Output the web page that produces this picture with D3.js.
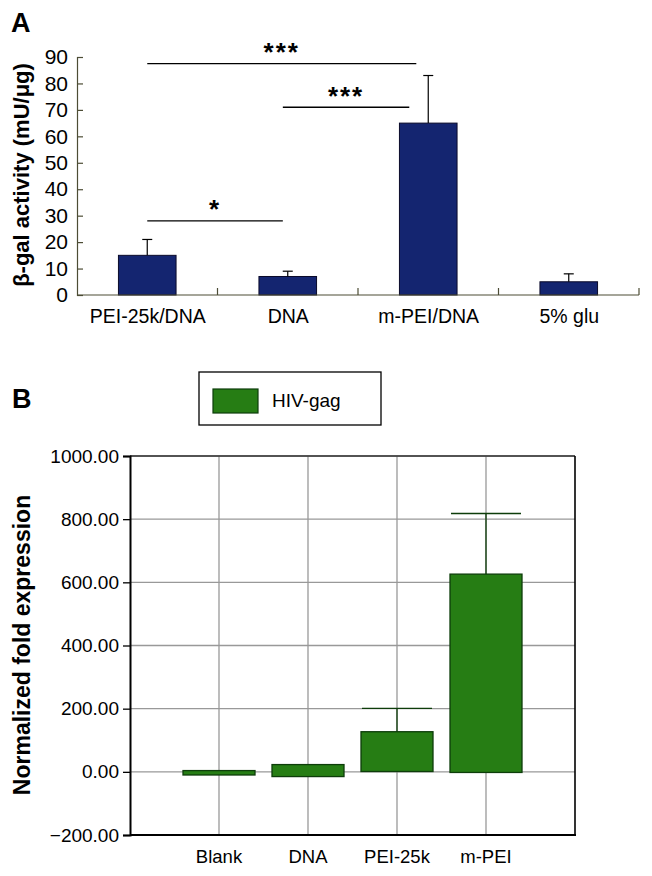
<!DOCTYPE html>
<html><head><meta charset="utf-8">
<script src="https://cdn.jsdelivr.net/npm/d3@7"></script>
<style>body{margin:0;background:#fff}svg{display:block}text{font-family:"Liberation Sans",Arial,sans-serif}</style>
</head><body>
<script>
// Panel A data
const catsA = ["PEI-25k/DNA", "DNA", "m-PEI/DNA", "5% glu"];
const valuesA = [15, 7, 65, 5];
const errA = [21, 9, 83, 8];
const ticksA = [0,10,20,30,40,50,60,70,80,90];
// significance brackets: start/end expressed in category-index units, height in data units
const sigStart = [0, 0.965, 0];
const sigEnd = [1.915, 1.865, 0.965];
const sigY = [87.5, 71, 28];
const sigLabel = ["***", "***", "*"];
// Panel B data
const catsB = ["Blank", "DNA", "PEI-25k", "m-PEI"];
const lowB = [-10, -15, 1, -2];
const highB = [4, 23, 127, 626];
const errB = [null, null, 201, 818];
const ticksB = [-200, 0, 200, 400, 600, 800, 1000];
const legendB = "HIV-gag";

const FF = "'Liberation Sans', Arial, sans-serif";
const svg = d3.select("body").append("svg").attr("width", 652).attr("height", 876);

// ---------- Panel A ----------
const xA = d3.scaleBand().domain(catsA).range([77, 639]).paddingInner(0.59).paddingOuter(0.295);
const xAb = d3.scaleBand().domain(catsA).range([77, 639]);
const xIdx = d3.scaleLinear().domain([0, 1]).range([xAb(catsA[0]) + xAb.bandwidth()/2, xAb(catsA[1]) + xAb.bandwidth()/2]);
const yA = d3.scaleLinear().domain([0, 90]).range([295, 57]);
const axCol = "#4d4d35";
const gA = svg.append("g");

gA.append("text").attr("x", 11).attr("y", 32).attr("font-size", 27).attr("font-weight", "bold").text("A");

// bars
gA.selectAll(".barA").data(catsA).join("rect")
  .attr("x", d => xA(d)).attr("width", xA.bandwidth())
  .attr("y", (d,i) => yA(valuesA[i])).attr("height", (d,i) => yA(0) - yA(valuesA[i]))
  .attr("fill", "#142570").attr("stroke", "#0a0a2a").attr("stroke-width", 1);
// error bars
catsA.forEach((d,i) => {
  const cx = xA(d) + xA.bandwidth()/2;
  gA.append("line").attr("x1", cx).attr("x2", cx).attr("y1", yA(valuesA[i])).attr("y2", yA(errA[i])).attr("stroke", "#000").attr("stroke-width", 1.2);
  gA.append("line").attr("x1", cx-5).attr("x2", cx+5).attr("y1", yA(errA[i])).attr("y2", yA(errA[i])).attr("stroke", "#000").attr("stroke-width", 1.2);
});
// y axis
const yAxA = d3.axisLeft(yA).tickValues(ticksA).tickSize(-6).tickPadding(9);
const gy = gA.append("g").attr("transform", "translate(77,0)").call(yAxA);
gy.select(".domain").attr("stroke", axCol).attr("stroke-width", 1.2);
gy.selectAll(".tick line").attr("stroke", axCol).attr("stroke-width", 1.2);
gy.selectAll(".tick text").attr("font-size", 21).attr("fill", "#000").attr("font-family", FF);
// x axis
gA.append("line").attr("x1", 77).attr("x2", 639).attr("y1", yA(0)).attr("y2", yA(0)).attr("stroke", axCol).attr("stroke-width", 1.2);
gA.selectAll(".xtA").data(catsA).join("line")
  .attr("x1", d => xAb(d) + xAb.bandwidth()).attr("x2", d => xAb(d) + xAb.bandwidth())
  .attr("y1", yA(0)).attr("y2", yA(0) - 7).attr("stroke", axCol).attr("stroke-width", 1.2);
gA.selectAll(".xlA").data(catsA).join("text")
  .attr("x", d => xAb(d) + xAb.bandwidth()/2 + 0.5).attr("y", 323).attr("text-anchor", "middle")
  .attr("font-size", 19.5).text(d => d);
// y label
gA.append("text").attr("transform", "translate(29,175) rotate(-90)").attr("text-anchor", "middle")
  .attr("font-size", 22).attr("font-weight", "bold").text("β-gal activity (mU/μg)");
// significance
sigY.forEach((v,i) => {
  const x1 = xIdx(sigStart[i]);
  const x2 = xIdx(sigEnd[i]);
  gA.append("line").attr("x1", x1).attr("x2", x2).attr("y1", yA(v)).attr("y2", yA(v)).attr("stroke", "#000").attr("stroke-width", 1.3);
  gA.append("text").attr("x", (x1+x2)/2).attr("y", yA(v) - 2.5).attr("text-anchor", "middle")
    .attr("font-size", 26).attr("font-weight", "bold").attr("letter-spacing", 2).text(sigLabel[i]);
});

// ---------- Panel B ----------
const gB = svg.append("g");
gB.append("text").attr("x", 12).attr("y", 408).attr("font-size", 27).attr("font-weight", "bold").text("B");
const xB = d3.scalePoint().domain(catsB).range([130, 575]).padding(1);
const yB = d3.scaleLinear().domain([-200, 1000]).range([835, 456]);
const bw = 72;

// legend
gB.append("rect").attr("x", 199).attr("y", 372).attr("width", 182).attr("height", 53).attr("fill", "#fff").attr("stroke", "#000").attr("stroke-width", 1.3);
gB.append("rect").attr("x", 213).attr("y", 389).attr("width", 45).attr("height", 24).attr("fill", "#267d14").attr("stroke", "#0d3d0a").attr("stroke-width", 1.2);
gB.append("text").attr("x", 272).attr("y", 407).attr("font-size", 19).text(legendB);

// grid
gB.selectAll(".hg").data(ticksB).join("line")
  .attr("x1", 130).attr("x2", 575).attr("y1", d => yB(d)).attr("y2", d => yB(d))
  .attr("stroke", "#999").attr("stroke-width", 1.3);
gB.selectAll(".vg").data(catsB).join("line")
  .attr("x1", d => xB(d)).attr("x2", d => xB(d)).attr("y1", 456).attr("y2", 835)
  .attr("stroke", "#999").attr("stroke-width", 1.3);
// bars
gB.selectAll(".barB").data(catsB).join("rect")
  .attr("x", d => xB(d) - bw/2).attr("width", bw)
  .attr("y", (d,i) => yB(highB[i])).attr("height", (d,i) => yB(lowB[i]) - yB(highB[i]))
  .attr("fill", "#267d14").attr("stroke", "#0d3d0a").attr("stroke-width", 1.3);
// errors
catsB.forEach((d,i) => {
  if (errB[i] == null) return;
  const cx = xB(d);
  gB.append("line").attr("x1", cx).attr("x2", cx).attr("y1", yB(highB[i])).attr("y2", yB(errB[i])).attr("stroke", "#0d3d0a").attr("stroke-width", 1.3);
  gB.append("line").attr("x1", cx-35).attr("x2", cx+35).attr("y1", yB(errB[i])).attr("y2", yB(errB[i])).attr("stroke", "#0d3d0a").attr("stroke-width", 1.3);
});
// frame
gB.append("line").attr("x1", 130).attr("x2", 575).attr("y1", 456).attr("y2", 456).attr("stroke", "#333").attr("stroke-width", 1.3);
gB.append("line").attr("x1", 575).attr("x2", 575).attr("y1", 456).attr("y2", 835).attr("stroke", "#000").attr("stroke-width", 1.6);
gB.append("line").attr("x1", 130).attr("x2", 576).attr("y1", 835).attr("y2", 835).attr("stroke", "#000").attr("stroke-width", 2);
const yAxB = d3.axisLeft(yB).tickValues(ticksB).tickSize(7).tickPadding(4).tickFormat(d3.format(".2f"));
const gyb = gB.append("g").attr("transform", "translate(130,0)").call(yAxB);
gyb.select(".domain").attr("stroke", "#000").attr("stroke-width", 2);
gyb.selectAll(".tick line").attr("stroke", "#000").attr("stroke-width", 1.3);
gyb.selectAll(".tick text").attr("font-size", 19).attr("fill", "#000").attr("font-family", FF)
  .text(d => d < 0 ? "\u2212" + d3.format(".2f")(-d) : d3.format(".2f")(d));
gB.selectAll(".xlB").data(catsB).join("text")
  .attr("x", d => xB(d)).attr("y", 863).attr("text-anchor", "middle").attr("font-size", 18.5).text(d => d);
gB.append("text").attr("transform", "translate(30,645) rotate(-90)").attr("text-anchor", "middle")
  .attr("font-size", 23).attr("font-weight", "bold").text("Normalized fold expression");
</script>
</body></html>
